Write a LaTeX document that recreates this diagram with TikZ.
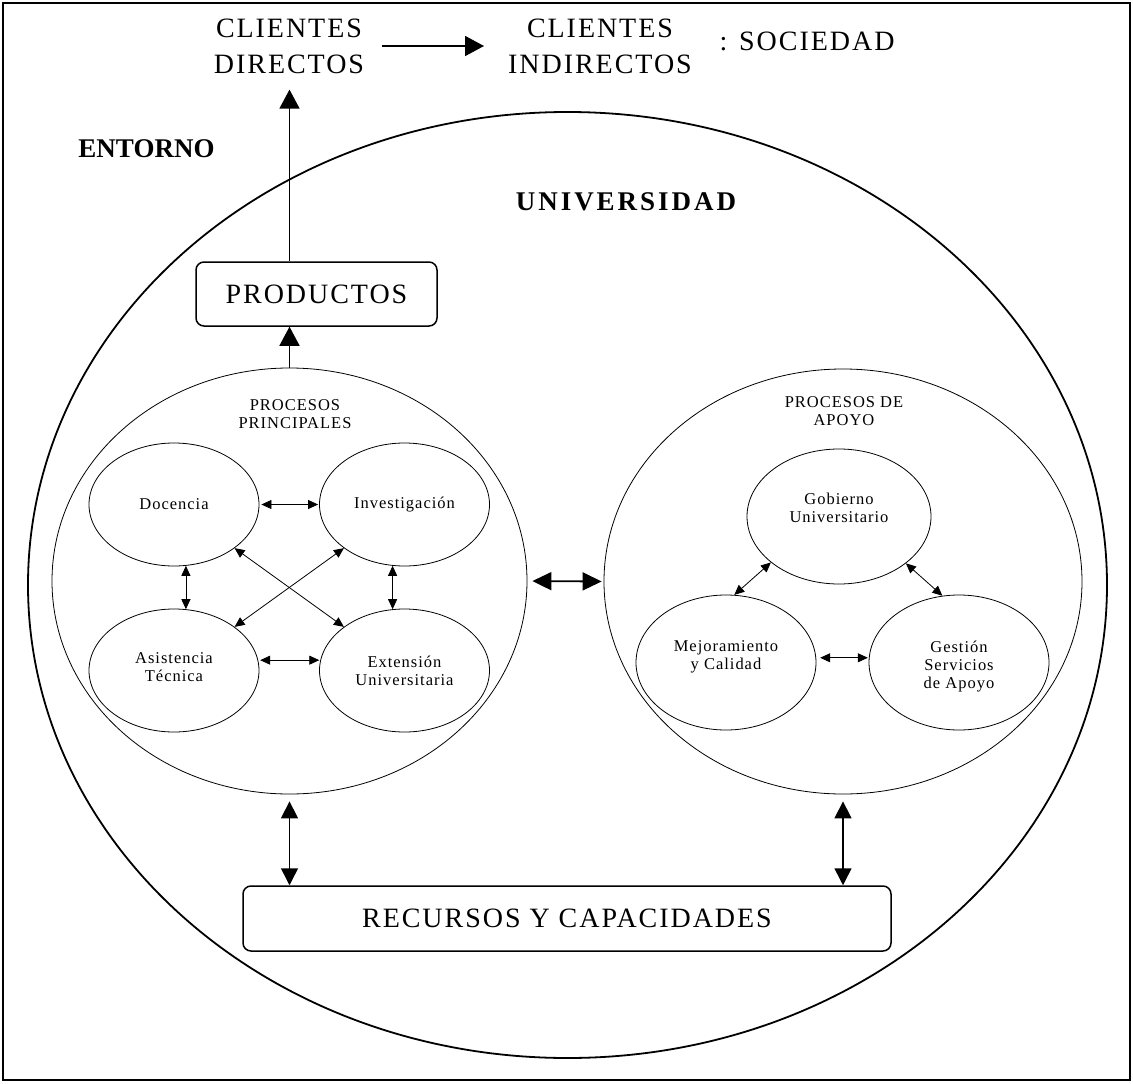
\documentclass[tikz,border=0pt]{standalone}
\usepackage{fontspec}
\setmainfont{Liberation Serif}
\newfontfamily\trackedbig[LetterSpace=7]{Liberation Serif}
\newfontfamily\trackedsmall[LetterSpace=6]{Liberation Serif}
\newfontfamily\trackedbold[LetterSpace=11]{Liberation Serif}
\usetikzlibrary{arrows.meta,shapes.geometric}
\tikzset{every node/.style={inner sep=0pt,align=center},line join=miter,
  bigtext/.style={font=\trackedbig\fontsize{28}{36}\selectfont},
  smalltext/.style={font=\trackedsmall\fontsize{16.5}{18}\selectfont},
  proc/.style={draw,ellipse,line width=0.8pt,smalltext},
  group/.style={draw,ellipse,line width=0.8pt},
  panel/.style={draw,rounded corners=8pt,line width=1.5pt,bigtext},
  thinboth/.style={line width=0.8pt,{Triangle[length=10pt,width=9pt]}-{Triangle[length=10pt,width=9pt]}},
  midboth/.style={line width=1.5pt,{Triangle[length=17pt,width=17pt]}-{Triangle[length=17pt,width=17pt]}},
  fatboth/.style={line width=1.8pt,{Triangle[length=19pt,width=18pt]}-{Triangle[length=19pt,width=18pt]}},
  fatto/.style={line width=1.5pt,-{Triangle[length=19pt,width=20pt]}}}

\begin{document}
\begin{tikzpicture}[x=1pt,y=-1pt]
  \path[use as bounding box] (0,0) rectangle (1133,1084);
  \draw[line width=2pt] (3,3) rectangle (1130,1080);
  \draw[line width=1.8pt] (567.5,585) ellipse [x radius=539.5,y radius=473];

  \node[bigtext] (cd) at (289,46) {CLIENTES\\DIRECTOS};
  \node[bigtext] (ci) at (600,46) {CLIENTES\\INDIRECTOS};
  \node[bigtext] (soc) at (807,41) {: SOCIEDAD};
  \node[font=\bfseries\fontsize{27}{32}\selectfont] (entorno) at (146.5,149) {ENTORNO};
  \node[font=\trackedbold\bfseries\fontsize{27}{32}\selectfont] (univ) at (626,202) {UNIVERSIDAD};

  \node[panel,minimum width=241pt,minimum height=64pt] (prod) at (316.5,294) {PRODUCTOS};
  \node[panel,minimum width=648pt,minimum height=65pt] (rec) at (567,918.5) {RECURSOS Y CAPACIDADES};

  \node[group,minimum width=475pt,minimum height=426pt] (pp) at (289.5,581) {};
  \node[group,minimum width=478pt,minimum height=425pt] (pa) at (843,581.5) {};
  \node[smalltext] (pptitle) at (295,414) {PROCESOS\\PRINCIPALES};
  \node[smalltext] (patitle) at (844,411) {PROCESOS DE\\APOYO};

  \node[proc,minimum width=170pt,minimum height=123pt] (doc) at (174,504.5) {Docencia};
  \node[proc,minimum width=170pt,minimum height=123pt] (inv) at (404.5,504.5) {Investigación};
  \node[proc,minimum width=170pt,minimum height=123pt,text depth=7pt] (asi) at (174,670.5) {Asistencia\\Técnica};
  \node[proc,minimum width=170pt,minimum height=123pt] (ext) at (404.5,670.5) {Extensión\\Universitaria};
  \node[proc,minimum width=184pt,minimum height=135pt,text depth=18pt] (gob) at (839,516.5) {Gobierno\\Universitario};
  \node[proc,minimum width=180pt,minimum height=135pt,text depth=14pt] (mej) at (726,662.5) {Mejoramiento\\y Calidad};
  \node[proc,minimum width=180pt,minimum height=135pt,text height=56pt] (ges) at (959,662.5) {Gestión\\Servicios\\de Apoyo};

  \draw[fatto,line width=1.8pt,shorten <=18pt,shorten >=24pt] (cd) -- (ci);
  \draw[fatto,shorten >=16pt] (prod.north -| pp.north) -- (cd.south -| pp.north);
  \draw[fatto] (pp.north) -- (pp.north |- prod.south);
  \draw[fatboth,shorten <=5pt,shorten >=2pt] (pp.east) -- (pa.west);
  \draw[midboth,shorten <=7pt] (pp.south) -- (pp.south |- rec.north);
  \draw[midboth,shorten <=7pt] (pa.south) -- (pa.south |- rec.north);

  \draw[thinboth,shorten <=2pt,shorten >=1pt] (doc) -- (inv);
  \draw[thinboth,shorten <=2pt,shorten >=1pt] (asi.7) -- (ext.173);
  \draw[thinboth] (doc.-79) -- (asi.79);
  \draw[thinboth] (inv.-101) -- (ext.101);
  \draw[thinboth] (doc) -- (ext);
  \draw[thinboth] (inv) -- (asi);
  \draw[thinboth] (gob.214) -- (mej.83);
  \draw[thinboth] (gob.325) -- (ges.104);
  \draw[thinboth,shorten <=4pt,shorten >=1pt] (mej.3) -- (ges.177);
\end{tikzpicture}
\end{document}
